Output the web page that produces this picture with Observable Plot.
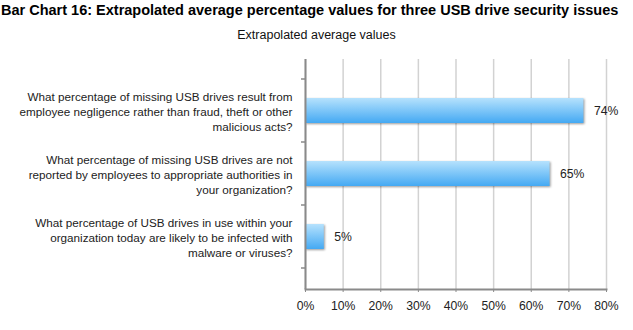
<!DOCTYPE html>
<html><head><meta charset="utf-8">
<script src="https://cdn.jsdelivr.net/npm/d3@7"></script>
<script src="https://cdn.jsdelivr.net/npm/@observablehq/plot@0.6"></script>
<style>
body{margin:0;background:#fff;font-family:"Liberation Sans",Arial,sans-serif;}
#title{font-weight:bold;font-size:14.5px;line-height:20px;height:20px;white-space:nowrap;color:#000;padding-left:1px}
#sub{font-size:12.5px;line-height:30px;height:30px;text-align:center;color:#111}
#chart svg g[aria-label="bar"] rect{filter:drop-shadow(1px 1.5px 1px rgba(0,0,0,0.4));}
</style></head><body>
<div id="title">Bar Chart 16: Extrapolated average percentage values for three USB drive security issues</div>
<div id="sub">Extrapolated average values</div>
<div id="chart"></div>
<script>
const questions = [
  "What percentage of missing USB drives result from\nemployee negligence rather than fraud, theft or other\nmalicious acts?",
  "What percentage of missing USB drives are not\nreported by employees to appropriate authorities in\nyour organization?",
  "What percentage of USB drives in use within your\norganization today are likely to be infected with\nmalware or viruses?"
];
const values = [74, 65, 5];
const xTicks = [0, 10, 20, 30, 40, 50, 60, 70, 80];

const data = questions.map((q, i) => ({q, v: values[i]}));

const chart = Plot.plot({
  width: 633, height: 280,
  marginTop: 9, marginBottom: 41, marginLeft: 305, marginRight: 27,
  style: {fontFamily: "Liberation Sans, Arial, sans-serif", fontSize: "11px", color: "#222", background: "#fff", overflow: "visible"},
  x: {domain: [0, 80]},
  y: {domain: questions, padding: 0.6},
  marks: [
    Plot.gridX(xTicks, {stroke: "#d2d2d2", strokeOpacity: 1, strokeWidth: 1.5}),
    Plot.barX(data, {x: "v", y: "q", fill: "url(#barGrad)"}),
    Plot.text(data, {x: "v", y: "q", text: d => d.v + "%", textAnchor: "start", dx: 10, fontSize: 12.2, fill: "#222"}),
    Plot.ruleX([0], {stroke: "#8a8a8a", strokeWidth: 2}),
    Plot.frame({anchor: "bottom", stroke: "#8a8a8a", strokeWidth: 2}),
    Plot.axisX({ticks: xTicks, tickFormat: d => d + "%", tickSize: 3, tickPadding: 9, stroke: "#8a8a8a", fontSize: 12.2, label: null}),
    Plot.axisY({tickSize: 0, tickPadding: 13, lineHeight: 1.28, fontSize: 11.7, textAnchor: "end", label: null})
  ]
});

const svg = d3.select(chart);
const defs = svg.insert("defs", ":first-child");
const g = defs.append("linearGradient").attr("id", "barGrad").attr("x1", 0).attr("y1", 0).attr("x2", 0).attr("y2", 1);
g.append("stop").attr("offset", "0%").attr("stop-color", "#b6e2fd");
g.append("stop").attr("offset", "100%").attr("stop-color", "#44a9f3");

// small boundary ticks on the left axis, from the band scale
const ys = chart.scale("y");
const x0 = chart.scale("x").apply(0);
const half = ys.step / 2;
const edges = ys.domain.map(d => ys.apply(d) + ys.bandwidth / 2 - half);
edges.push(ys.apply(ys.domain[ys.domain.length - 1]) + ys.bandwidth / 2 + half);
svg.append("g").selectAll("line").data(edges).join("line")
  .attr("x1", x0 - 4).attr("x2", x0).attr("y1", d => d).attr("y2", d => d)
  .attr("stroke", "#8a8a8a").attr("stroke-width", 1.5);

document.getElementById("chart").appendChild(chart);
</script>
</body></html>
